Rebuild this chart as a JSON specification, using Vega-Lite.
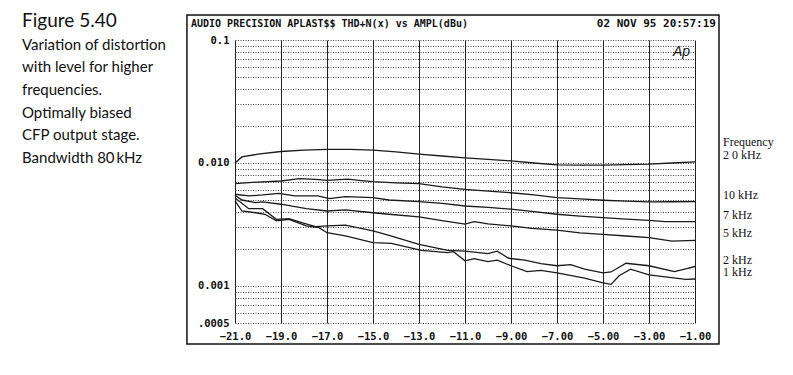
{
  "$schema": "https://vega.github.io/schema/vega-lite/v6.json",
  "background": "white",
  "padding": {"left": 22, "top": 12, "right": 0, "bottom": 0},
  "spacing": 4,
  "config": {"view": {"stroke": null}},
  "datasets": {
    "caption": [
      {"line": 0, "text": "Figure 5.40"},
      {"line": 1, "text": "Variation of distortion"},
      {"line": 2, "text": "with level for higher"},
      {"line": 3, "text": "frequencies."},
      {"line": 4, "text": "Optimally biased"},
      {"line": 5, "text": "CFP output stage."},
      {"line": 6, "text": "Bandwidth 80\u2009kHz"}
    ],
    "curves": [
      {"freq": "2 0 kHz", "level": -21, "thdn": 0.0100},
      {"freq": "2 0 kHz", "level": -20.7, "thdn": 0.0112},
      {"freq": "2 0 kHz", "level": -20, "thdn": 0.0118},
      {"freq": "2 0 kHz", "level": -19, "thdn": 0.0124},
      {"freq": "2 0 kHz", "level": -18, "thdn": 0.0127},
      {"freq": "2 0 kHz", "level": -17, "thdn": 0.0129},
      {"freq": "2 0 kHz", "level": -16, "thdn": 0.0129},
      {"freq": "2 0 kHz", "level": -15, "thdn": 0.0127},
      {"freq": "2 0 kHz", "level": -14, "thdn": 0.0123},
      {"freq": "2 0 kHz", "level": -13, "thdn": 0.0118},
      {"freq": "2 0 kHz", "level": -12, "thdn": 0.0114},
      {"freq": "2 0 kHz", "level": -11, "thdn": 0.0110},
      {"freq": "2 0 kHz", "level": -10, "thdn": 0.0107},
      {"freq": "2 0 kHz", "level": -9, "thdn": 0.0104},
      {"freq": "2 0 kHz", "level": -8, "thdn": 0.0100},
      {"freq": "2 0 kHz", "level": -7, "thdn": 0.00965},
      {"freq": "2 0 kHz", "level": -6, "thdn": 0.0096},
      {"freq": "2 0 kHz", "level": -5, "thdn": 0.0096},
      {"freq": "2 0 kHz", "level": -4, "thdn": 0.0097},
      {"freq": "2 0 kHz", "level": -3, "thdn": 0.0098},
      {"freq": "2 0 kHz", "level": -2, "thdn": 0.0100},
      {"freq": "2 0 kHz", "level": -1, "thdn": 0.0102},

      {"freq": "10 kHz", "level": -21, "thdn": 0.00679},
      {"freq": "10 kHz", "level": -20, "thdn": 0.00700},
      {"freq": "10 kHz", "level": -19, "thdn": 0.00714},
      {"freq": "10 kHz", "level": -18.2, "thdn": 0.00745},
      {"freq": "10 kHz", "level": -17.5, "thdn": 0.00735},
      {"freq": "10 kHz", "level": -17, "thdn": 0.00723},
      {"freq": "10 kHz", "level": -16.1, "thdn": 0.0074},
      {"freq": "10 kHz", "level": -15.5, "thdn": 0.0072},
      {"freq": "10 kHz", "level": -15, "thdn": 0.00705},
      {"freq": "10 kHz", "level": -14, "thdn": 0.0069},
      {"freq": "10 kHz", "level": -13, "thdn": 0.00679},
      {"freq": "10 kHz", "level": -12, "thdn": 0.0064},
      {"freq": "10 kHz", "level": -11, "thdn": 0.00611},
      {"freq": "10 kHz", "level": -10, "thdn": 0.0059},
      {"freq": "10 kHz", "level": -9, "thdn": 0.00573},
      {"freq": "10 kHz", "level": -8, "thdn": 0.0055},
      {"freq": "10 kHz", "level": -7, "thdn": 0.00522},
      {"freq": "10 kHz", "level": -6, "thdn": 0.0051},
      {"freq": "10 kHz", "level": -5, "thdn": 0.00498},
      {"freq": "10 kHz", "level": -4, "thdn": 0.0049},
      {"freq": "10 kHz", "level": -3, "thdn": 0.00482},
      {"freq": "10 kHz", "level": -2, "thdn": 0.00484},
      {"freq": "10 kHz", "level": -1, "thdn": 0.00485},

      {"freq": "7 kHz", "level": -21, "thdn": 0.00557},
      {"freq": "7 kHz", "level": -20.4, "thdn": 0.0054},
      {"freq": "7 kHz", "level": -19.8, "thdn": 0.0055},
      {"freq": "7 kHz", "level": -19.1, "thdn": 0.00567},
      {"freq": "7 kHz", "level": -18.4, "thdn": 0.0054},
      {"freq": "7 kHz", "level": -17.4, "thdn": 0.0054},
      {"freq": "7 kHz", "level": -16.9, "thdn": 0.00513},
      {"freq": "7 kHz", "level": -16.2, "thdn": 0.00532},
      {"freq": "7 kHz", "level": -15, "thdn": 0.00522},
      {"freq": "7 kHz", "level": -14.3, "thdn": 0.0050},
      {"freq": "7 kHz", "level": -13, "thdn": 0.00485},
      {"freq": "7 kHz", "level": -12, "thdn": 0.0047},
      {"freq": "7 kHz", "level": -11, "thdn": 0.00447},
      {"freq": "7 kHz", "level": -10, "thdn": 0.00435},
      {"freq": "7 kHz", "level": -9, "thdn": 0.00421},
      {"freq": "7 kHz", "level": -8, "thdn": 0.00402},
      {"freq": "7 kHz", "level": -7, "thdn": 0.00383},
      {"freq": "7 kHz", "level": -6, "thdn": 0.0037},
      {"freq": "7 kHz", "level": -5, "thdn": 0.00359},
      {"freq": "7 kHz", "level": -4, "thdn": 0.0035},
      {"freq": "7 kHz", "level": -3, "thdn": 0.00342},
      {"freq": "7 kHz", "level": -2.3, "thdn": 0.00333},
      {"freq": "7 kHz", "level": -1, "thdn": 0.00333},

      {"freq": "5 kHz", "level": -21, "thdn": 0.00546},
      {"freq": "5 kHz", "level": -20.7, "thdn": 0.0050},
      {"freq": "5 kHz", "level": -20.1, "thdn": 0.00476},
      {"freq": "5 kHz", "level": -19.8, "thdn": 0.00482},
      {"freq": "5 kHz", "level": -19, "thdn": 0.00462},
      {"freq": "5 kHz", "level": -17.9, "thdn": 0.00425},
      {"freq": "5 kHz", "level": -17, "thdn": 0.00407},
      {"freq": "5 kHz", "level": -16.2, "thdn": 0.00415},
      {"freq": "5 kHz", "level": -15, "thdn": 0.00394},
      {"freq": "5 kHz", "level": -14.3, "thdn": 0.00383},
      {"freq": "5 kHz", "level": -13, "thdn": 0.00364},
      {"freq": "5 kHz", "level": -12, "thdn": 0.0034},
      {"freq": "5 kHz", "level": -11, "thdn": 0.00318},
      {"freq": "5 kHz", "level": -10.6, "thdn": 0.00333},
      {"freq": "5 kHz", "level": -10, "thdn": 0.0032},
      {"freq": "5 kHz", "level": -9, "thdn": 0.00308},
      {"freq": "5 kHz", "level": -8.1, "thdn": 0.00294},
      {"freq": "5 kHz", "level": -7, "thdn": 0.00284},
      {"freq": "5 kHz", "level": -6, "thdn": 0.0027},
      {"freq": "5 kHz", "level": -5, "thdn": 0.00263},
      {"freq": "5 kHz", "level": -4, "thdn": 0.00255},
      {"freq": "5 kHz", "level": -3, "thdn": 0.00247},
      {"freq": "5 kHz", "level": -2, "thdn": 0.00232},
      {"freq": "5 kHz", "level": -1, "thdn": 0.00235},

      {"freq": "2 kHz", "level": -21, "thdn": 0.00519},
      {"freq": "2 kHz", "level": -20.4, "thdn": 0.00425},
      {"freq": "2 kHz", "level": -19.8, "thdn": 0.00425},
      {"freq": "2 kHz", "level": -19.2, "thdn": 0.00348},
      {"freq": "2 kHz", "level": -18.65, "thdn": 0.00352},
      {"freq": "2 kHz", "level": -18.1, "thdn": 0.00327},
      {"freq": "2 kHz", "level": -17.5, "thdn": 0.00304},
      {"freq": "2 kHz", "level": -17, "thdn": 0.00308},
      {"freq": "2 kHz", "level": -16.2, "thdn": 0.00312},
      {"freq": "2 kHz", "level": -15, "thdn": 0.0028},
      {"freq": "2 kHz", "level": -14.3, "thdn": 0.00258},
      {"freq": "2 kHz", "level": -13, "thdn": 0.00218},
      {"freq": "2 kHz", "level": -11.75, "thdn": 0.00195},
      {"freq": "2 kHz", "level": -11, "thdn": 0.00192},
      {"freq": "2 kHz", "level": -10, "thdn": 0.00183},
      {"freq": "2 kHz", "level": -9.6, "thdn": 0.00192},
      {"freq": "2 kHz", "level": -9.1, "thdn": 0.00168},
      {"freq": "2 kHz", "level": -8.4, "thdn": 0.00162},
      {"freq": "2 kHz", "level": -7.7, "thdn": 0.00152},
      {"freq": "2 kHz", "level": -7, "thdn": 0.00146},
      {"freq": "2 kHz", "level": -6.4, "thdn": 0.00149},
      {"freq": "2 kHz", "level": -5.8, "thdn": 0.00137},
      {"freq": "2 kHz", "level": -5, "thdn": 0.00128},
      {"freq": "2 kHz", "level": -4.65, "thdn": 0.0013},
      {"freq": "2 kHz", "level": -4, "thdn": 0.00153},
      {"freq": "2 kHz", "level": -3, "thdn": 0.00146},
      {"freq": "2 kHz", "level": -1.9, "thdn": 0.00131},
      {"freq": "2 kHz", "level": -1.4, "thdn": 0.00138},
      {"freq": "2 kHz", "level": -1, "thdn": 0.00144},

      {"freq": "1 kHz", "level": -21, "thdn": 0.00491},
      {"freq": "1 kHz", "level": -20.7, "thdn": 0.00407},
      {"freq": "1 kHz", "level": -20.1, "thdn": 0.00394},
      {"freq": "1 kHz", "level": -19.7, "thdn": 0.00383},
      {"freq": "1 kHz", "level": -19.2, "thdn": 0.00338},
      {"freq": "1 kHz", "level": -18.65, "thdn": 0.00348},
      {"freq": "1 kHz", "level": -17.9, "thdn": 0.00308},
      {"freq": "1 kHz", "level": -17.35, "thdn": 0.00298},
      {"freq": "1 kHz", "level": -17, "thdn": 0.00271},
      {"freq": "1 kHz", "level": -16.2, "thdn": 0.00255},
      {"freq": "1 kHz", "level": -15, "thdn": 0.00225},
      {"freq": "1 kHz", "level": -14.2, "thdn": 0.00222},
      {"freq": "1 kHz", "level": -12.9, "thdn": 0.00195},
      {"freq": "1 kHz", "level": -11.75, "thdn": 0.00187},
      {"freq": "1 kHz", "level": -11.5, "thdn": 0.0019},
      {"freq": "1 kHz", "level": -11, "thdn": 0.0016},
      {"freq": "1 kHz", "level": -10.6, "thdn": 0.00167},
      {"freq": "1 kHz", "level": -10, "thdn": 0.00158},
      {"freq": "1 kHz", "level": -9.6, "thdn": 0.00162},
      {"freq": "1 kHz", "level": -9, "thdn": 0.00146},
      {"freq": "1 kHz", "level": -8.3, "thdn": 0.00131},
      {"freq": "1 kHz", "level": -7.7, "thdn": 0.00134},
      {"freq": "1 kHz", "level": -7, "thdn": 0.00128},
      {"freq": "1 kHz", "level": -5.8, "thdn": 0.00116},
      {"freq": "1 kHz", "level": -5, "thdn": 0.00106},
      {"freq": "1 kHz", "level": -4.65, "thdn": 0.00103},
      {"freq": "1 kHz", "level": -4.3, "thdn": 0.00121},
      {"freq": "1 kHz", "level": -3.8, "thdn": 0.00137},
      {"freq": "1 kHz", "level": -3, "thdn": 0.00123},
      {"freq": "1 kHz", "level": -1.4, "thdn": 0.00113},
      {"freq": "1 kHz", "level": -1, "thdn": 0.00114}
    ]
  },
  "hconcat": [
    {
      "width": 160,
      "height": 123,
      "data": {"name": "caption"},
      "encoding": {
        "x": {"value": 0},
        "y": {"field": "line", "type": "quantitative", "axis": null, "scale": {"domain": [0.5735, 6], "reverse": true, "nice": false, "zero": false}},
        "text": {"field": "text"}
      },
      "layer": [
        {"transform": [{"filter": "datum.line == 0"}], "mark": {"type": "text", "align": "left", "baseline": "alphabetic", "font": "Lato", "fontSize": 19, "color": "#111"}},
        {"transform": [{"filter": "datum.line > 0"}], "mark": {"type": "text", "align": "left", "baseline": "alphabetic", "font": "Lato", "fontSize": 15, "color": "#111"}}
      ]
    },
    {
      "width": 460,
      "height": 283,
      "layer": [
        {
          "data": {"name": "curves"},
          "mark": {"type": "line", "color": "#1a1a1a", "strokeWidth": 1.3},
          "encoding": {
            "x": {"field": "level", "type": "quantitative", "scale": {"domain": [-21, -1], "nice": false, "zero": false},
              "axis": {"title": null, "values": [-21, -19, -17, -15, -13, -11, -9, -7, -5, -3, -1], "labelExpr": "datum.value <= -11 ? format(datum.value, '.1f') : format(datum.value, '.2f')", "grid": true, "gridColor": "#222", "gridWidth": 1, "domain": false, "ticks": false, "labelPadding": 8, "labelFlush": false, "labelFont": "DejaVu Sans Mono", "labelFontWeight": "bold", "labelFontSize": 10.5, "labelColor": "#111", "labelOverlap": false}},
            "y": {"field": "thdn", "type": "quantitative", "scale": {"type": "log", "domain": [0.0005, 0.1], "nice": false},
              "axis": {"title": null, "values": [0.0005, 0.0006, 0.0007, 0.0008, 0.0009, 0.001, 0.002, 0.003, 0.004, 0.005, 0.006, 0.007, 0.008, 0.009, 0.01, 0.02, 0.03, 0.04, 0.05, 0.06, 0.07, 0.08, 0.09, 0.1], "labelExpr": "datum.value == 0.1 ? '0.1' : datum.value == 0.01 ? '0.010' : datum.value == 0.001 ? '0.001' : datum.value == 0.0005 ? '.0005' : ''", "grid": true, "gridColor": "#444", "gridDash": [1, 1.5], "gridWidth": 1, "domain": false, "ticks": false, "labelPadding": 6, "labelFlush": false, "labelFont": "DejaVu Sans Mono", "labelFontWeight": "bold", "labelFontSize": 10.5, "labelColor": "#111", "labelOverlap": false, "labelBaseline": "middle"}},
            "detail": {"field": "freq"}
          }
        },
        {
          "data": {"values": [{}]},
          "mark": {"type": "rect", "filled": false, "stroke": "#111", "strokeWidth": 1.5, "clip": false},
          "encoding": {
            "x": {"datum": -23.09, "type": "quantitative"},
            "x2": {"datum": 0.043},
            "y": {"datum": 0.1596, "type": "quantitative"},
            "y2": {"datum": 0.000338}
          }
        },
        {
          "data": {"values": [{}]},
          "mark": {"type": "text", "align": "left", "baseline": "middle", "dx": -44, "dy": -16, "font": "DejaVu Sans Mono", "fontWeight": "bold", "fontSize": 10, "color": "#111", "text": "AUDIO PRECISION APLAST$$ THD+N(x) vs AMPL(dBu)"},
          "encoding": {"x": {"datum": -21, "type": "quantitative"}, "y": {"datum": 0.1, "type": "quantitative"}}
        },
        {
          "data": {"values": [{}]},
          "mark": {"type": "text", "align": "right", "baseline": "middle", "dx": 21, "dy": -16, "font": "DejaVu Sans Mono", "fontWeight": "bold", "fontSize": 11, "color": "#111", "text": "02 NOV 95 20:57:19"},
          "encoding": {"x": {"datum": -1, "type": "quantitative"}, "y": {"datum": 0.1, "type": "quantitative"}}
        },
        {
          "data": {"values": [{}]},
          "mark": {"type": "text", "align": "right", "baseline": "middle", "dx": -5, "dy": 12, "font": "Liberation Sans", "fontStyle": "italic", "fontSize": 14, "color": "#111", "text": "Ap"},
          "encoding": {"x": {"datum": -1, "type": "quantitative"}, "y": {"datum": 0.1, "type": "quantitative"}}
        },
        {
          "data": {"name": "curves"},
          "transform": [{"filter": "datum.level == -1"}],
          "mark": {"type": "text", "align": "left", "baseline": "middle", "dx": 28, "dy": -7, "font": "Liberation Serif", "fontSize": 12, "color": "#111"},
          "encoding": {
            "x": {"field": "level", "type": "quantitative"},
            "y": {"field": "thdn", "type": "quantitative"},
            "text": {"field": "freq"}
          }
        },
        {
          "data": {"values": [{}]},
          "mark": {"type": "text", "align": "left", "baseline": "middle", "dx": 28, "dy": -20, "font": "Liberation Serif", "fontSize": 12, "color": "#111", "text": "Frequency"},
          "encoding": {"x": {"datum": -1, "type": "quantitative"}, "y": {"datum": 0.0102, "type": "quantitative"}}
        }
      ]
    }
  ]
}
